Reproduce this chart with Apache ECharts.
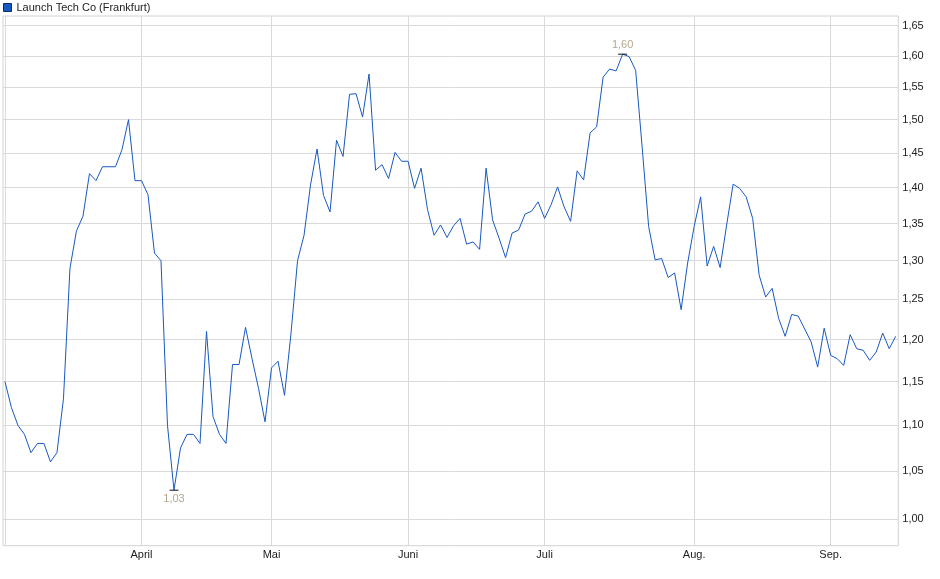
<!DOCTYPE html>
<html>
<head>
<meta charset="utf-8">
<title>Launch Tech Co (Frankfurt)</title>
<script src="https://cdn.jsdelivr.net/npm/echarts@6/dist/echarts.min.js"></script>
<style>
  html, body { margin: 0; padding: 0; background: #fff; }
  #chart { width: 940px; height: 579px; }
</style>
</head>
<body>
<div id="chart"></div>
<script>
// Launch Tech Co, Börse Frankfurt, Schlusskurse je Handelstag
const seriesName = 'Launch Tech Co (Frankfurt)'
const firstDay = '2025-03-03'
const lastDay = '2025-09-15'
const holidays = ['2025-04-18', '2025-04-21', '2025-05-01']
const monthNames = ['Jan.', 'Feb.', 'März', 'April', 'Mai', 'Juni', 'Juli', 'Aug.', 'Sep.', 'Okt.', 'Nov.', 'Dez.']

const prices = [
  1.15, 1.12, 1.10, 1.09, 1.07, 1.08, 1.08, 1.06, 1.07, 1.13,
  1.29, 1.34, 1.36, 1.42, 1.41, 1.43, 1.43, 1.43, 1.455, 1.50,
  1.41, 1.41, 1.39, 1.31, 1.30, 1.10, 1.03, 1.075, 1.09, 1.09,
  1.08, 1.21, 1.11, 1.09, 1.08, 1.17, 1.17, 1.215, 1.177, 1.142,
  1.104, 1.166, 1.174, 1.134, 1.208, 1.30, 1.334, 1.404, 1.456, 1.389,
  1.366, 1.469, 1.445, 1.539, 1.540, 1.504, 1.571, 1.425, 1.433, 1.413,
  1.451, 1.438, 1.438, 1.399, 1.428, 1.369, 1.334, 1.348, 1.331, 1.347,
  1.357, 1.322, 1.325, 1.315, 1.428, 1.355, 1.330, 1.304, 1.337, 1.341,
  1.363, 1.367, 1.380, 1.357, 1.376, 1.401, 1.373, 1.353, 1.424, 1.411,
  1.48, 1.489, 1.566, 1.579, 1.576, 1.603, 1.599, 1.577, 1.459, 1.346,
  1.301, 1.303, 1.278, 1.284, 1.237, 1.297, 1.346, 1.387, 1.293, 1.319,
  1.291, 1.348, 1.405, 1.399, 1.387, 1.357, 1.281, 1.253, 1.264, 1.226,
  1.204, 1.231, 1.229, 1.213, 1.197, 1.167, 1.214, 1.181, 1.177, 1.169,
  1.206, 1.189, 1.187, 1.175, 1.185, 1.208, 1.189, 1.204
]

const yTicks = [1.00, 1.05, 1.10, 1.15, 1.20, 1.25, 1.30, 1.35, 1.40, 1.45, 1.50, 1.55, 1.60, 1.65]
const yRange = [0.9736, 1.6663]

// Handelstage (Mo–Fr ohne Feiertage)
const tradingDays = []
for (let d = new Date(firstDay + 'T00:00:00Z'); d <= new Date(lastDay + 'T00:00:00Z'); d.setUTCDate(d.getUTCDate() + 1)) {
  const wd = d.getUTCDay()
  const s = d.toISOString().slice(0, 10)
  if (wd === 0 || wd === 6 || holidays.includes(s)) continue
  tradingDays.push(s)
}
const monthOf = s => parseInt(s.slice(5, 7), 10) - 1
const monthStarts = tradingDays
  .map((s, i) => (i === 0 || monthOf(s) !== monthOf(tradingDays[i - 1]) ? i : -1))
  .filter(i => i >= 0)

// logarithmische Skala: Werte als ln auf einer linearen Achse
const lnTicks = yTicks.map(Math.log)
const fmtPrice = v => Math.exp(v).toFixed(2).replace('.', ',')

const FONT = '"Liberation Sans", Arial, sans-serif'
const LINE = '#1858c2'
const GRIDC = '#dadada'

const chart = echarts.init(document.getElementById('chart'), null, { renderer: 'canvas' })
chart.setOption({
  animation: false,
  textStyle: { fontFamily: FONT },
  legend: {
    left: 3, top: 2, padding: 0,
    itemWidth: 8, itemHeight: 8, icon: 'rect',
    textStyle: { fontSize: 11, color: '#222', fontFamily: FONT },
    data: [{ name: seriesName, itemStyle: { color: LINE, borderColor: '#0e2d63', borderWidth: 1 } }]
  },
  grid: {
    left: 3, right: 41.7, top: 16, bottom: 33.3,
    show: true, borderColor: '#d2d2d2', borderWidth: 1
  },
  xAxis: {
    type: 'value',
    min: -0.3, max: tradingDays.length - 1 + 0.4,
    axisLine: { show: false },
    axisTick: { show: false, customValues: monthStarts },
    axisLabel: {
      customValues: monthStarts.slice(1),
      formatter: v => monthNames[monthOf(tradingDays[Math.round(v)])],
      fontSize: 11, color: '#222', margin: 4, fontFamily: FONT
    },
    splitLine: { show: true, lineStyle: { color: GRIDC, width: 1 } }
  },
  yAxis: {
    type: 'value', position: 'right',
    min: Math.log(yRange[0]), max: Math.log(yRange[1]),
    axisLine: { show: false },
    axisTick: { show: false, customValues: lnTicks },
    axisLabel: {
      customValues: lnTicks, formatter: fmtPrice,
      fontSize: 11, color: '#222', margin: 4, fontFamily: FONT
    },
    splitLine: { show: true, lineStyle: { color: GRIDC, width: 1 } }
  },
  series: [{
    name: seriesName,
    type: 'line',
    data: prices.map((p, i) => [i, Math.log(p)]),
    symbol: 'none',
    lineStyle: { color: LINE, width: 1 },
    itemStyle: { color: LINE },
    markPoint: {
      symbol: 'rect', symbolSize: [9, 1],
      itemStyle: { color: '#111' },
      label: { fontSize: 11, color: '#b5a78f', fontFamily: FONT, formatter: p => fmtPrice(p.value) },
      data: [
        { type: 'max', valueDim: 'y', label: { position: 'top', distance: 3 } },
        { type: 'min', valueDim: 'y', label: { position: 'bottom', distance: 3 } }
      ]
    }
  }]
})
</script>
</body>
</html>
